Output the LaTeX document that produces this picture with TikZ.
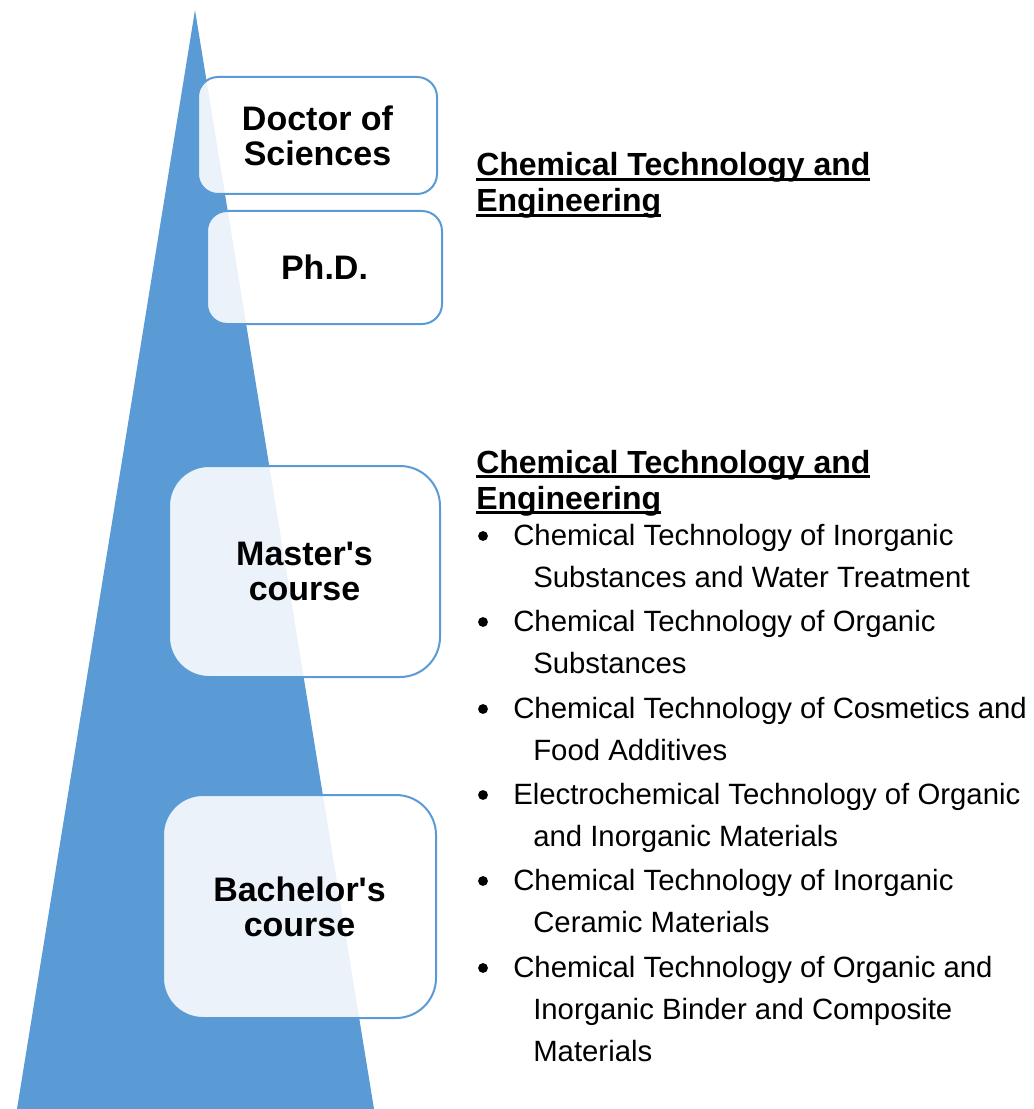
\documentclass[tikz,border=0pt]{standalone}
\usepackage{fontspec}
\setmainfont{Liberation Sans}
\definecolor{triblue}{HTML}{5B9BD5}
\newsavebox{\ulbox}
\newcommand{\myul}[1]{\sbox{\ulbox}{#1}\rlap{\rule[-0.145em]{\wd\ulbox}{0.075em}}\usebox{\ulbox}}
\begin{document}
\begin{tikzpicture}[x=0.75pt,y=-0.75pt,
  level/.style={draw=triblue, line width=1.5pt, fill=white, fill opacity=0.88, text opacity=1,
    align=center, inner sep=0pt, font=\fontsize{25.5}{26.25}\selectfont\bfseries},
  smallcorner/.style={rounded corners=15pt},
  bigcorner/.style={rounded corners=30pt},
  headline/.style={anchor=base west, inner sep=0pt, font=\fontsize{24}{27}\selectfont\bfseries},
  itemline/.style={anchor=base west, inner sep=0pt, font=\fontsize{22}{31.5}\selectfont},
  bulletmark/.style={circle, fill=black, inner sep=0pt, minimum size=7.4pt}]
\useasboundingbox (0,0) rectangle (1034,1109);
% pyramid
\fill[triblue] (195,10) -- (17,1109) -- (374,1109) -- cycle;
% level boxes
\node[level, smallcorner, minimum width=179.25pt, minimum height=87.75pt] (doc) at (317.5,135.5) {Doctor of\\Sciences};
\node[level, smallcorner, minimum width=176.25pt, minimum height=84.75pt] (phd) at (324.5,267.5) {Ph.D.};
\node[level, bigcorner, minimum width=203.25pt, minimum height=158.25pt] (mas) at (304.5,571.5) {Master\textquotesingle s\\course};
\node[level, bigcorner, minimum width=204.75pt, minimum height=167.25pt] (bac) at (299.5,906.5) {Bachelor\textquotesingle s\\course};
% headings
\node[headline] (h1a) at (476,176) {\myul{Chemical Technology and}};
\node[headline] (h1b) at (476,212) {\myul{Engineering}};
\node[headline] (h2a) at (476,473) {\myul{Chemical Technology and}};
\node[headline] (h2b) at (476,509) {\myul{Engineering}};
% bullet list
\node[bulletmark] (b1) at (483,536) {};
\node[itemline] (i1a) at (513,545) {Chemical Technology of Inorganic};
\node[itemline] (i1b) at (533,587) {Substances and Water Treatment};
\node[bulletmark] (b2) at (483,622) {};
\node[itemline] (i2a) at (513,631) {Chemical Technology of Organic};
\node[itemline] (i2b) at (533,673) {Substances};
\node[bulletmark] (b3) at (483,709) {};
\node[itemline] (i3a) at (513,718) {Chemical Technology of Cosmetics and};
\node[itemline] (i3b) at (533,760) {Food Additives};
\node[bulletmark] (b4) at (483,795) {};
\node[itemline] (i4a) at (513,804) {Electrochemical Technology of Organic};
\node[itemline] (i4b) at (533,846) {and Inorganic Materials};
\node[bulletmark] (b5) at (483,881) {};
\node[itemline] (i5a) at (513,890) {Chemical Technology of Inorganic};
\node[itemline] (i5b) at (533,932) {Ceramic Materials};
\node[bulletmark] (b6) at (483,968) {};
\node[itemline] (i6a) at (513,977) {Chemical Technology of Organic and};
\node[itemline] (i6b) at (533,1019) {Inorganic Binder and Composite};
\node[itemline] (i6c) at (533,1061) {Materials};
\end{tikzpicture}
\end{document}
